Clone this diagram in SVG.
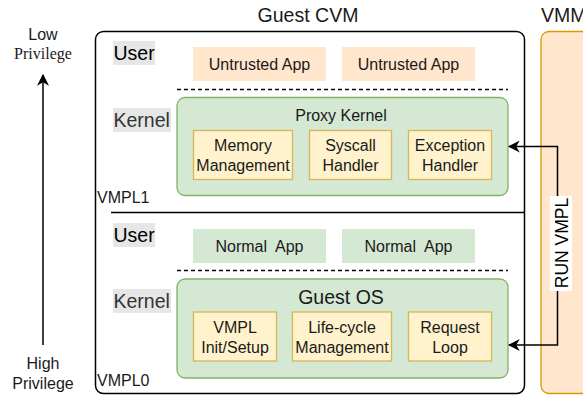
<svg xmlns="http://www.w3.org/2000/svg" width="583" height="396" viewBox="0 0 583 396">
<defs>
<style>
text{font-family:"Liberation Sans",Arial,sans-serif;fill:#1a1a1a}
.c{text-anchor:middle;font-size:16px}
.big{font-size:19.5px}
.lbl{fill:#e6e6e6}
.app-u{fill:#ffe6cc}
.app-n{fill:#d5e8d4}
.green{fill:#d5e8d4;stroke:#82b366;stroke-width:1.3}
.yel{fill:#fff2cc;stroke:#d6b656;stroke-width:1.3}
.dash{stroke:#000;stroke-width:1.3;stroke-dasharray:4 3;fill:none}
.conn{stroke:#000;stroke-width:1.5;fill:none}
</style>
<marker id="ah" viewBox="0 0 10 10" refX="9" refY="5" markerWidth="12" markerHeight="12" markerUnits="userSpaceOnUse" orient="auto">
<path d="M0,0 L10,5 L0,10 L3,5 Z" fill="#000"/>
</marker>
</defs>

<g id="privilege-axis">
<text x="43" y="40" class="c">Low</text>
<text x="43" y="59" style="font-family:'Liberation Serif','Times New Roman',serif;font-size:16px;text-anchor:middle">Privilege</text>
<line x1="43" y1="345" x2="43" y2="75" class="conn" marker-end="url(#ah)"/>
<text x="43" y="369" class="c">High</text>
<text x="43" y="389" class="c">Privilege</text>
</g>

<g id="guest-cvm">
<rect x="95.5" y="31.5" width="429" height="362" rx="8" fill="#fff" stroke="#000" stroke-width="1.5"/>
<text x="308" y="22" class="big" text-anchor="middle">Guest CVM</text>
<line x1="111" y1="212.5" x2="524" y2="212.5" stroke="#000" stroke-width="1.5"/>
<text x="97" y="203" style="font-size:16px">VMPL1</text>
<text x="97" y="386" style="font-size:16px">VMPL0</text>
</g>

<g id="vmm">
<rect x="541" y="31.5" width="60" height="362" rx="8" fill="#ffe6cc" stroke="#d79b00" stroke-width="1.3"/>
<text x="541" y="22" class="big">VMM</text>
</g>

<g id="vmpl1-user-label">
<rect x="113" y="41" width="42" height="24" class="lbl"/>
<text x="113.5" y="60" class="big" style="fill:#000">User</text>
</g>
<g id="vmpl1-kernel-label">
<rect x="113" y="108" width="58" height="24" class="lbl"/>
<text x="113.5" y="127" class="big" style="fill:#333">Kernel</text>
</g>

<g id="untrusted-app-1">
<rect x="193" y="47" width="133" height="34" class="app-u"/>
<text x="259.5" y="70" class="c">Untrusted App</text>
</g>
<g id="untrusted-app-2">
<rect x="342" y="47" width="133" height="34" class="app-u"/>
<text x="408.5" y="70" class="c">Untrusted App</text>
</g>
<line x1="177" y1="89.5" x2="508" y2="89.5" class="dash"/>

<g id="proxy-kernel">
<rect x="177" y="97.5" width="331" height="98" rx="8" class="green"/>
<text x="341" y="121" class="c">Proxy Kernel</text>
</g>
<g id="memory-management">
<rect x="193.5" y="130.5" width="99" height="49" class="yel"/>
<text x="243" y="151" class="c">Memory</text>
<text x="243" y="171" class="c">Management</text>
</g>
<g id="syscall-handler">
<rect x="309.5" y="130.5" width="82" height="49" class="yel"/>
<text x="350.5" y="151" class="c">Syscall</text>
<text x="350.5" y="171" class="c">Handler</text>
</g>
<g id="exception-handler">
<rect x="408.5" y="130.5" width="83" height="49" class="yel"/>
<text x="450" y="151" class="c">Exception</text>
<text x="450" y="171" class="c">Handler</text>
</g>

<g id="vmpl0-user-label">
<rect x="113" y="223" width="42" height="24" class="lbl"/>
<text x="113.5" y="242" class="big" style="fill:#000">User</text>
</g>
<g id="vmpl0-kernel-label">
<rect x="113" y="289" width="58" height="24" class="lbl"/>
<text x="113.5" y="308" class="big" style="fill:#333">Kernel</text>
</g>

<g id="normal-app-1">
<rect x="193" y="229" width="133" height="34" class="app-n"/>
<text x="259.5" y="252" class="c" style="white-space:pre">Normal  App</text>
</g>
<g id="normal-app-2">
<rect x="342" y="229" width="133" height="34" class="app-n"/>
<text x="408.5" y="252" class="c" style="white-space:pre">Normal  App</text>
</g>
<line x1="177" y1="270.5" x2="508" y2="270.5" class="dash"/>

<g id="guest-os">
<rect x="177" y="279" width="331" height="99" rx="8" class="green"/>
<text x="341" y="304" class="big" text-anchor="middle">Guest OS</text>
</g>
<g id="vmpl-init-setup">
<rect x="193.5" y="312" width="83" height="49" class="yel"/>
<text x="235" y="333" class="c">VMPL</text>
<text x="235" y="353" class="c">Init/Setup</text>
</g>
<g id="life-cycle-management">
<rect x="292.5" y="312" width="99" height="49" class="yel"/>
<text x="342" y="333" class="c">Life-cycle</text>
<text x="342" y="353" class="c">Management</text>
</g>
<g id="request-loop">
<rect x="408.5" y="312" width="83" height="49" class="yel"/>
<text x="450" y="333" class="c">Request</text>
<text x="450" y="353" class="c">Loop</text>
</g>

<g id="connectors">
<path d="M557.5,243 L557.5,146.5 L509,146.5" class="conn" marker-end="url(#ah)"/>
<path d="M557.5,243 L557.5,345 L509,345" class="conn" marker-end="url(#ah)"/>
<rect x="550" y="196" width="22" height="95" fill="#fff"/>
<text x="0" y="0" transform="translate(567.5,243) rotate(-90)" style="font-size:17.5px;text-anchor:middle;fill:#000">RUN VMPL</text>
</g>
</svg>
